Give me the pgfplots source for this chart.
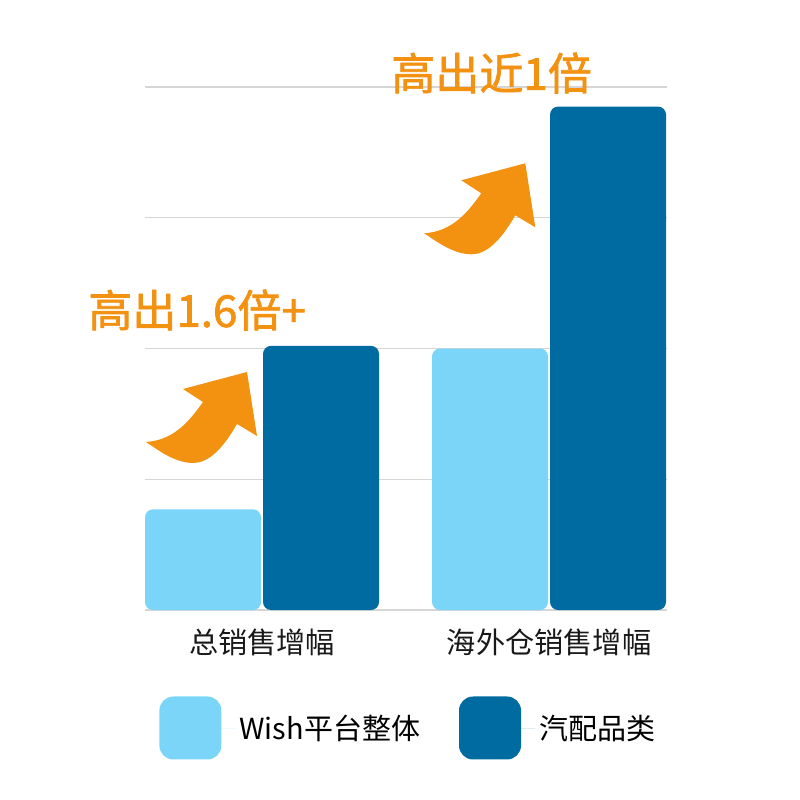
\documentclass[border=0pt]{standalone}
\usepackage{fontspec}
\setmainfont{Noto Sans CJK SC}
\newfontfamily\cjkmed{Noto Sans CJK SC}[FakeBold=1.6]
\usepackage{pgfplots}
\pgfplotsset{compat=1.18}
\definecolor{lightb}{HTML}{7AD5F9}
\definecolor{darkb}{HTML}{006BA1}
\definecolor{arrowo}{HTML}{F39110}
\definecolor{gridg}{HTML}{D6D6D6}

% arrow outline in pixel units (800x800 reference)
\def\arrowpath{(146,442) .. controls (175,440) and (190,420) .. (203,402) -- (183,389) -- (247,372) -- (257,436) -- (237,424) .. controls (222,450) and (208,463) .. (193,463) .. controls (175,463) and (158,450) .. (146,442) -- cycle}

\begin{document}
\begin{tikzpicture}
\path (0,0) rectangle (400pt,400pt);
\begin{axis}[
    at={(72.5pt,95pt)}, anchor=south west,
    scale only axis, width=261pt, height=261.5pt,
    xmin=-0.4077, xmax=1.411, ymin=0, ymax=4,
    ybar=1pt, bar width=58pt,
    axis line style={draw=none},
    tick style={draw=none},
    ytick={1,2,3,4}, yticklabels={},
    ymajorgrids, major grid style={gridg, line width=0.7pt},
    extra y ticks={0}, extra y tick labels={},
    extra y tick style={grid style={gray!85, line width=0.8pt}},
    xtick={0,1}, xticklabels={总销售增幅,海外仓销售增幅},
    xticklabel style={font=\fontsize{14.6pt}{14.6pt}\selectfont, text=black!90, yshift=-1.5pt},
    legend style={at={(7pt,-59pt)}, anchor=west, draw=none, fill=none,
        legend columns=2, inner sep=0pt,
        font=\fontsize{14.5pt}{14.5pt}\selectfont,
        /tikz/every even column/.append style={column sep=17.5pt}},
    legend cell align=left,
]
\addplot[fill=lightb, draw=none, rounded corners=4pt,
    legend image code/.code={\fill[lightb, rounded corners=7pt] (0pt,-15.5pt) rectangle (31pt,16pt);
        \path (0pt,0pt) -- (38pt,0pt);}]
    coordinates {(0,0.77) (1,2.0)};
\addlegendentry{Wish平台整体}
\addplot[fill=darkb, draw=none, rounded corners=4pt,
    legend image code/.code={\fill[darkb, rounded corners=7pt] (0pt,-15.5pt) rectangle (31pt,16pt);
        \path (0pt,0pt) -- (38pt,0pt);}]
    coordinates {(0,2.02) (1,3.85)};
\addlegendentry{汽配品类}
\end{axis}
\begin{scope}[yshift=400pt, x=0.5pt, y=-0.5pt]
  \fill[arrowo] \arrowpath;
  \fill[arrowo, shift={(278.3,-208.7)}] \arrowpath;
  \node[anchor=west, inner sep=0, text=arrowo, font=\fontsize{22pt}{22pt}\selectfont\cjkmed] at (88,310) {高出1.6倍+};
  \node[anchor=west, inner sep=0, text=arrowo, font=\fontsize{22pt}{22pt}\selectfont\cjkmed] at (391,73) {高出近1倍};
\end{scope}
\end{tikzpicture}
\end{document}
